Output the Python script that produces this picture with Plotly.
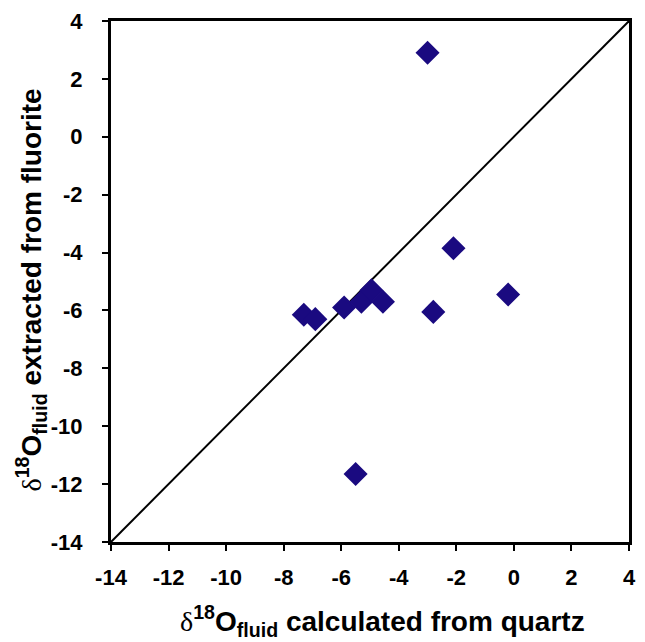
import plotly.graph_objects as go

# data
quartz_d18O = [-3.0, -2.1, -0.2, -2.8, -7.3, -6.9, -5.9, -5.3, -4.95, -4.55, -5.5]
fluorite_d18O = [2.9, -3.85, -5.45, -6.05, -6.15, -6.3, -5.9, -5.7, -5.3, -5.7, -11.65]
line_x = [-14, 4]
line_y = [-14, 4]
tick_vals = list(range(-14, 5, 2))
tick_text = ["-14", "-12", "-10", "-8", "-6", "-4", "-2", "0", "2", "4"]
x_title = "δ18O fluid calculated from quartz"
y_title = "δ18O fluid extracted from fluorite"

marker_color = "#1a0a80"
fig = go.Figure()
fig.add_trace(go.Scatter(x=line_x, y=line_y, mode="lines",
                         line=dict(color="black", width=2), showlegend=False,
                         hoverinfo="skip"))
fig.add_trace(go.Scatter(x=quartz_d18O, y=fluorite_d18O, mode="markers",
                         marker=dict(symbol="diamond", size=18.5, color=marker_color,
                                     line=dict(width=0)),
                         showlegend=False))

font_family = "Arial, Liberation Sans, sans-serif"
axis_common = dict(range=[-14, 4], tickvals=tick_vals, ticktext=tick_text,
                   showgrid=False, zeroline=False,
                   showline=True, linecolor="black", linewidth=3, mirror=True,
                   ticks="outside", ticklen=6, tickwidth=2, tickcolor="black",
                   tickfont=dict(family=font_family, size=22, color="black", weight="bold"))


def rich(title):
    parts = title.split(" ", 2)
    delta = "<span style='font-weight:normal;font-family:Liberation Serif'>δ</span>"
    return delta + "<sup>18</sup>O<sub>" + parts[1] + "</sub> " + parts[2]


title_font = dict(family=font_family, size=28, color="black", weight="bold")
fig.update_layout(
    width=645, height=642,
    margin=dict(l=111, r=9, t=15, b=100),
    paper_bgcolor="white", plot_bgcolor="white",
    xaxis=dict(**axis_common, ticklabelstandoff=8),
    yaxis=dict(**axis_common, ticklabelstandoff=15),
    annotations=[
        dict(text=rich(x_title), xref="paper", yref="paper", x=0.524, y=0,
             xanchor="center", yanchor="middle", yshift=-79, showarrow=False,
             font=title_font),
        dict(text=rich(y_title), xref="paper", yref="paper", x=0, y=0.5,
             xanchor="center", yanchor="middle", xshift=-80, yshift=-9,
             showarrow=False, textangle=-90, font=title_font),
    ],
)

fig.write_html("out.html")
